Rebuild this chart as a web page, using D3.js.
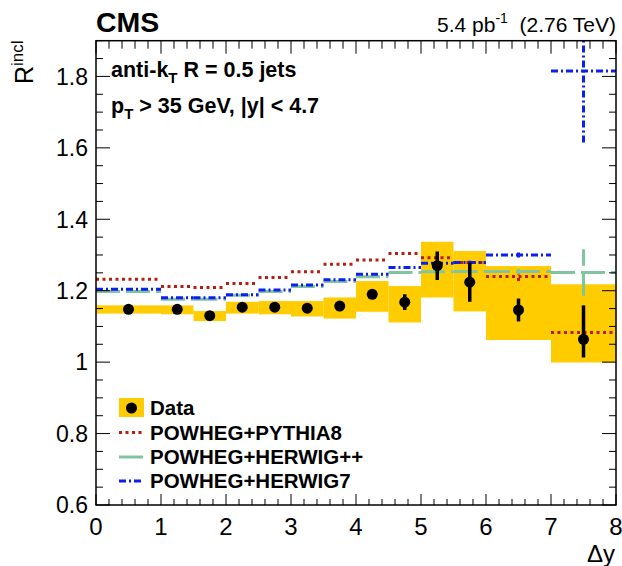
<!DOCTYPE html>
<html><head><meta charset="utf-8">
<script src="https://cdn.jsdelivr.net/npm/d3@7"></script>
<style>body{margin:0;background:#fff}svg{display:block}text{font-family:"Liberation Sans",Arial,Helvetica,sans-serif}</style>
</head><body>
<script>
// ---- data ----
const binEdges   = [0, 1, 1.5, 2, 2.5, 3, 3.5, 4, 4.5, 5, 5.5, 6, 7, 8];
const dataVal    = [1.148, 1.148, 1.130, 1.154, 1.154, 1.151, 1.157, 1.190, 1.168, 1.270, 1.224, 1.146, 1.064];
const statErrLo  = [0.004, 0.004, 0.004, 0.004, 0.004, 0.004, 0.004, 0.008, 0.022, 0.040, 0.055, 0.032, 0.051];
const statErrHi  = [0.004, 0.004, 0.004, 0.004, 0.004, 0.004, 0.004, 0.008, 0.022, 0.040, 0.055, 0.032, 0.095];
const sysLo      = [1.136, 1.134, 1.115, 1.136, 1.134, 1.128, 1.122, 1.141, 1.111, 1.181, 1.142, 1.062, 0.999];
const sysHi      = [1.159, 1.159, 1.143, 1.169, 1.171, 1.171, 1.181, 1.227, 1.213, 1.337, 1.311, 1.269, 1.218];
const pythia8    = [1.232, 1.212, 1.209, 1.220, 1.237, 1.253, 1.274, 1.286, 1.304, 1.292, 1.279, 1.240, 1.083];
const pythia8Err = [0, 0, 0, 0, 0, 0, 0, 0, 0, 0.003, 0.008, 0.013, 0.004];
const herwigpp   = [1.198, 1.176, 1.176, 1.187, 1.198, 1.212, 1.226, 1.239, 1.251, 1.253, 1.254, 1.254, 1.251];
const herwigppErr= [0, 0, 0, 0, 0, 0, 0, 0, 0, 0.003, 0.005, 0.007, 0.065];
const herwig7    = [1.204, 1.180, 1.180, 1.189, 1.202, 1.216, 1.231, 1.246, 1.265, 1.277, 1.279, 1.300, 1.815];
const herwig7Err = [0, 0, 0, 0, 0, 0, 0, 0, 0, 0.003, 0.005, 0.007, 0.200];
const xTickLabels = ["0","1","2","3","4","5","6","7","8"];
const yTickLabels = ["0.6","0.8","1","1.2","1.4","1.6","1.8"];
const legendLabels = ["Data", "POWHEG+PYTHIA8", "POWHEG+HERWIG++", "POWHEG+HERWIG7"];

// ---- setup ----
const W = 622, H = 566;
const L = 96, R = 616, T = 40.7, B = 505;
const x = d3.scaleLinear().domain([0, 8]).range([L, R]);
const y = d3.scaleLinear().domain([0.6, 1.9]).range([B, T]);
const svg = d3.select("body").append("svg").attr("width", W).attr("height", H);
svg.append("defs").append("clipPath").attr("id","clip")
  .append("rect").attr("x", L).attr("y", T).attr("width", R-L).attr("height", B-T);
const plot = svg.append("g").attr("clip-path","url(#clip)");

const bins = dataVal.map((v,i)=>({i, x0: binEdges[i], x1: binEdges[i+1], xc:(binEdges[i]+binEdges[i+1])/2}));
const YEL = "#ffcc00";

// systematic band
plot.selectAll("rect.sys").data(bins).join("rect").attr("class","sys")
  .attr("x", d=>x(d.x0)).attr("width", d=>x(d.x1)-x(d.x0))
  .attr("y", d=>y(sysHi[d.i])).attr("height", d=>y(sysLo[d.i])-y(sysHi[d.i]))
  .attr("fill", YEL);

// model predictions
const models = [
  {vals: pythia8, errs: pythia8Err, color: "#b81c12", dash: "3,3.5", w: 3},
  {vals: herwigpp, errs: herwigppErr, color: "#80c4a2", dash: "24,6", w: 3},
  {vals: herwig7, errs: herwig7Err, color: "#0b1ff0", dash: "7,3,2,3", w: 3},
];
models.forEach(m=>{
  const g = plot.append("g").attr("stroke", m.color).attr("stroke-width", m.w).attr("stroke-dasharray", m.dash).attr("fill","none");
  g.selectAll("line.h").data(bins).join("line").attr("class","h")
    .attr("x1", d=>x(d.x0)).attr("x2", d=>x(d.x1))
    .attr("y1", d=>y(m.vals[d.i])).attr("y2", d=>y(m.vals[d.i]));
  g.selectAll("line.v").data(bins.filter(d=>m.errs[d.i]>0)).join("line").attr("class","v")
    .attr("x1", d=>x(d.xc)).attr("x2", d=>x(d.xc))
    .attr("y1", d=>y(m.vals[d.i]-m.errs[d.i])).attr("y2", d=>y(m.vals[d.i]+m.errs[d.i]));
});

// data
plot.selectAll("line.stat").data(bins).join("line").attr("class","stat")
  .attr("x1", d=>x(d.xc)).attr("x2", d=>x(d.xc))
  .attr("y1", d=>y(dataVal[d.i]-statErrLo[d.i])).attr("y2", d=>y(dataVal[d.i]+statErrHi[d.i]))
  .attr("stroke","#000").attr("stroke-width",3.5);
plot.selectAll("circle.pt").data(bins).join("circle").attr("class","pt")
  .attr("cx", d=>x(d.xc)).attr("cy", d=>y(dataVal[d.i])).attr("r", 5.5).attr("fill","#000");

// axes (ticks inward, on all four sides)
const ax = svg.append("g").attr("stroke","#000").attr("stroke-width",1);
const xMinor = d3.range(0, 8.0001, 0.2);
const yMinor = d3.range(0.6, 1.9001, 0.05);
const isInt = v => Math.abs(v-Math.round(v))<1e-6;
const isMajY = v => Math.abs(v*5-Math.round(v*5))<1e-6;
xMinor.forEach(v=>{
  const big = isInt(v);
  ax.append("line").attr("x1",x(v)).attr("x2",x(v)).attr("y1",B).attr("y2",B-(big?11:6));
  ax.append("line").attr("x1",x(v)).attr("x2",x(v)).attr("y1",T).attr("y2",T+(big?13:8));
});
yMinor.forEach(v=>{
  const big = isMajY(v);
  ax.append("line").attr("x1",L).attr("x2",L+(big?14:7)).attr("y1",y(v)).attr("y2",y(v));
  ax.append("line").attr("x1",R).attr("x2",R-(big?14:7)).attr("y1",y(v)).attr("y2",y(v));
});
svg.append("rect").attr("x",L).attr("y",T).attr("width",R-L).attr("height",B-T)
  .attr("fill","none").attr("stroke","#000").attr("stroke-width",1.5);

// tick labels
svg.selectAll("text.xt").data(xTickLabels).join("text").attr("class","xt")
  .attr("x", d=>x(+d)).attr("y", 535).attr("text-anchor","middle")
  .attr("font-size",24).text(d=>d);
svg.selectAll("text.yt").data(yTickLabels).join("text").attr("class","yt")
  .attr("x", 88).attr("y", d=>y(+d)).attr("dy","0.36em").attr("text-anchor","end")
  .attr("font-size",23).text(d=>d);

// axis titles
const yt = svg.append("text").attr("transform","translate(33,84) rotate(-90)").attr("font-size",25);
yt.append("tspan").text("R");
yt.append("tspan").attr("dy",-10).attr("font-size",17).text("incl");
svg.append("text").attr("x",615).attr("y",562).attr("text-anchor","end").attr("font-size",24).text("\u0394y");

// header
svg.append("text").attr("x",96).attr("y",32).attr("font-size",28.5).attr("font-weight","bold").text("CMS");
const lumi = svg.append("text").attr("x",616).attr("y",32).attr("text-anchor","end").attr("font-size",21);
lumi.append("tspan").text("5.4 pb");
lumi.append("tspan").attr("dy",-9).attr("font-size",14).text("-1");
lumi.append("tspan").attr("dy",9).text("\u00a0\u00a0(2.76 TeV)");

// labels in plot
const t1 = svg.append("text").attr("x",111).attr("y",77).attr("font-size",21.5).attr("font-weight","bold");
t1.append("tspan").text("anti-k");
t1.append("tspan").attr("dy",6).attr("font-size",15).text("T");
t1.append("tspan").attr("dy",-6).text(" R = 0.5 jets");
const t2 = svg.append("text").attr("x",111).attr("y",113).attr("font-size",21.5).attr("font-weight","bold");
t2.append("tspan").text("p");
t2.append("tspan").attr("dy",6).attr("font-size",15).text("T");
t2.append("tspan").attr("dy",-6).text(" > 35 GeV, |y| < 4.7");

// legend
const lg = svg.append("g");
const rowY = [408, 432.5, 457, 481];
lg.append("rect").attr("x",119).attr("y",398).attr("width",25).attr("height",19).attr("fill",YEL);
lg.append("circle").attr("cx",131.5).attr("cy",408).attr("r",5.5).attr("fill","#000");
models.forEach((m,k)=>{
  lg.append("line").attr("x1",119).attr("x2",144).attr("y1",rowY[k+1]).attr("y2",rowY[k+1])
    .attr("stroke",m.color).attr("stroke-width",m.w).attr("stroke-dasharray",m.dash);
});
lg.selectAll("text").data(legendLabels).join("text")
  .attr("x",150).attr("y",(d,k)=>rowY[k]+7).attr("font-size",20.5).attr("font-weight","bold").text(d=>d);
</script>
</body></html>
